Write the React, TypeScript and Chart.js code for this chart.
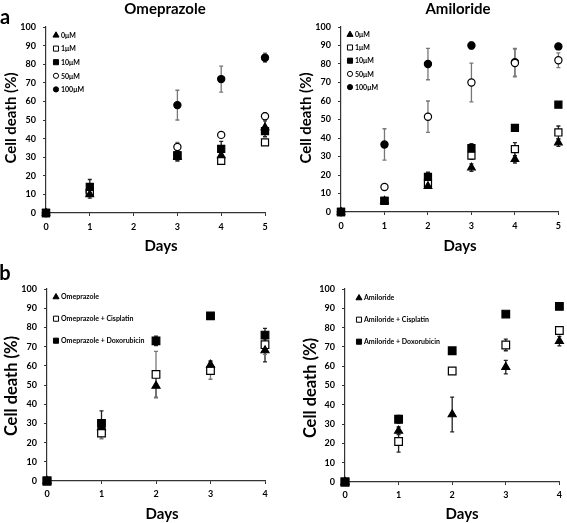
import React, { useEffect, useRef } from "react";
import { Chart, registerables } from "chart.js";

Chart.register(...registerables);

const FONT = "Lato, 'Open Sans', 'DejaVu Sans', sans-serif";

// ---------- Data (panel a, Omeprazole) ----------
const omeDays = [0, 1, 3, 4, 5];
const ome0 = [0, 10, 30, 31, 46];
const ome0Err = [0, 2, 2, 3, 3.5];
const ome1 = [0, 11, 31, 28, 38];
const ome1Err = [0, 1.5, 2, 1.5, 1];
const ome10 = [0, 14, 31, 34.5, 44];
const ome10Err = [0, 4, 3, 4, 3];
const ome50 = [0, 11, 35.5, 42, 52];
const ome50Err = [0, 2, 2.5, 1, 2];
const ome100 = [0, 12, 58, 72, 83.5];
const ome100Err = [0, 3, 8, 7, 2.5];

// ---------- Data (panel a, Amiloride) ----------
const amiDays = [0, 1, 2, 3, 4, 5];
const ami0 = [0, 6, 14, 24, 28.5, 37.5];
const ami0Err = [0, 0.5, 1, 2, 2, 2];
const ami1 = [0, 6, 15.5, 30.5, 34, 43];
const ami1Err = [0, 0.5, 1.5, 2, 3.5, 3.5];
const ami10 = [0, 6, 19, 34.5, 45.5, 58];
const ami10Err = [0, 0.5, 2.5, 2.5, 1, 1];
const ami50 = [0, 13.5, 51.5, 70, 80.5, 82];
const ami50Err = [0, 1, 8.5, 10.5, 7.5, 4];
const ami100 = [0, 36.5, 80, 90, 81, 89.5];
const ami100Err = [0, 8.5, 8.5, 2, 7.5, 0.5];

// ---------- Data (panel b, combinations) ----------
const comboDays = [0, 1, 2, 3, 4];
const omeAlone = [0, 28, 49.5, 60.5, 68];
const omeAloneErr = [0, 3, 6, 2, 6];
const omeCis = [0, 25, 55.5, 57.5, 71];
const omeCisErr = [0, 3, 12, 4.5, 5];
const omeDox = [0, 30, 73, 86, 76];
const omeDoxErr = [0, 6.5, 2.5, 1, 3.5];
const amiAlone = [0, 26.5, 35, 59.5, 73];
const amiAloneErr = [0, 2, 9, 3.5, 2.5];
const amiCis = [0, 21, 57.5, 71, 78.5];
const amiCisErr = [0, 5.5, 1, 3, 1];
const amiDox = [0, 32.5, 68, 87, 91];
const amiDoxErr = [0, 2, 0.5, 0.5, 0.5];

const doseLabels = ["0μM", "1μM", "10μM", "50μM", "100μM"];
const omeComboLabels = ["Omeprazole", "Omeprazole + Cisplatin", "Omeprazole + Doxorubicin"];
const amiComboLabels = ["Amiloride", "Amiloride + Cisplatin", "Amiloride + Doxorubicin"];
const yTicksMax = 100;
const yStep = 10;

type Series = {
  label: string;
  data: number[];
  err: number[];
  style: "triangle" | "rect" | "circle";
  filled: boolean;
  errColor: string;
  top?: boolean;
};

const DARK = "#222";
const GREY = "#777";

function drawMarker(ctx: CanvasRenderingContext2D, style: string, x: number, y: number, r: number, filled: boolean) {
  ctx.save();
  ctx.beginPath();
  if (style === "triangle") {
    const h = r * 1.5;
    ctx.moveTo(x, y - r);
    ctx.lineTo(x + r * 0.95, y + r * 0.65);
    ctx.lineTo(x - r * 0.95, y + r * 0.65);
    ctx.closePath();
    void h;
  } else if (style === "rect") {
    const s = r * Math.SQRT1_2;
    ctx.rect(x - s, y - s, 2 * s, 2 * s);
  } else {
    ctx.arc(x, y, r, 0, Math.PI * 2);
  }
  ctx.fillStyle = filled ? "#000" : "#fff";
  ctx.fill();
  ctx.lineWidth = 1;
  ctx.strokeStyle = "#000";
  ctx.stroke();
  ctx.restore();
}

const errorBarPlugin = {
  id: "errorBars",
  beforeDatasetsDraw(chart: any) {
    const ctx = chart.ctx as CanvasRenderingContext2D;
    const yScale = chart.scales.y;
    chart.data.datasets.forEach((ds: any, i: number) => {
      const meta = chart.getDatasetMeta(i);
      const errs: number[] = ds.errors || [];
      meta.data.forEach((pt: any, j: number) => {
        const e = errs[j];
        if (!e) return;
        const v = ds.data[j].y;
        const yT = yScale.getPixelForValue(v + e);
        const yB = yScale.getPixelForValue(Math.max(0, v - e));
        const x = pt.x;
        ctx.save();
        ctx.strokeStyle = ds.errColor || DARK;
        ctx.lineWidth = 1.3;
        ctx.beginPath();
        ctx.moveTo(x, yT);
        ctx.lineTo(x, yB);
        ctx.moveTo(x - 2, yT);
        ctx.lineTo(x + 2, yT);
        ctx.moveTo(x - 2, yB);
        ctx.lineTo(x + 2, yB);
        ctx.stroke();
        ctx.restore();
      });
    });
  },
};

const legendPlugin = {
  id: "insideLegend",
  afterDraw(chart: any, _args: any, opts: any) {
    const ctx = chart.ctx as CanvasRenderingContext2D;
    const { left, top } = chart.chartArea;
    chart.data.datasets.forEach((ds: any, i: number) => {
      const x = left + opts.dx;
      const y = top + opts.dy0 + i * opts.step;
      const r = ds.pointStyle === "rect" ? 3.6 : ds.pointStyle === "triangle" ? 3.2 : 2.6;
      drawMarker(ctx, ds.pointStyle, x, y, r, ds.filledMarker);
      ctx.save();
      ctx.fillStyle = "#000";
      ctx.font = `bold 7px ${FONT}`;
      ctx.textBaseline = "middle";
      ctx.textAlign = "left";
      ctx.fillText(ds.label, x + 5, y + 0.5);
      ctx.restore();
    });
  },
};

type PanelProps = {
  box: { x: number; y: number; w: number; h: number };
  pad: { left: number; right: number; top: number; bottom: number };
  yW: number;
  xH: number;
  days: number[];
  xMax: number;
  series: Series[];
  legend: { dx: number; dy0: number; step: number };
  xTickPad: number;
  radius: { rect: number; circle: number; triangle: number };
};

function Panel(p: PanelProps) {
  const ref = useRef<HTMLCanvasElement>(null);
  useEffect(() => {
    const tickFont = { family: FONT, size: 9, weight: "bold" as const };
    const chart = new Chart(ref.current!, {
      type: "scatter",
      data: {
        datasets: p.series.map((s) => ({
          label: s.label,
          data: p.days.map((d, i) => ({ x: d, y: s.data[i] })),
          errors: s.err,
          errColor: s.errColor,
          filledMarker: s.filled,
          pointStyle: s.style,
          pointRadius: p.radius[s.style],
          pointHoverRadius: p.radius[s.style],
          pointBackgroundColor: s.filled ? "#000" : "#fff",
          pointBorderColor: "#000",
          pointBorderWidth: 1.2,
          showLine: false,
          clip: false,
          order: s.top ? -1 : 0,
        })) as any,
      },
      options: {
        animation: false,
        responsive: false,
        devicePixelRatio: 1,
        events: [],
        layout: { padding: p.pad },
        plugins: {
          legend: { display: false },
          tooltip: { enabled: false },
          title: { display: false },
          insideLegend: p.legend,
        } as any,
        scales: {
          x: {
            type: "linear",
            min: 0,
            max: p.xMax,
            afterFit: (s: any) => {
              s.height = p.xH;
            },
            ticks: { stepSize: 1, color: "#000", font: tickFont, padding: p.xTickPad, maxRotation: 0 },
            grid: { drawOnChartArea: false, drawTicks: true, tickLength: 3, color: "#333", lineWidth: 1 },
            border: { display: true, color: "#333", width: 1.2 },
          },
          y: {
            type: "linear",
            min: 0,
            max: yTicksMax,
            afterFit: (s: any) => {
              s.width = p.yW;
            },
            ticks: { stepSize: yStep, color: "#000", font: tickFont, padding: 7 },
            grid: { drawOnChartArea: false, drawTicks: true, tickLength: 3, color: "#333", lineWidth: 1 },
            border: { display: true, color: "#333", width: 1.2 },
          },
        },
      },
      plugins: [errorBarPlugin, legendPlugin],
    });
    return () => chart.destroy();
  }, []);
  return (
    <canvas
      ref={ref}
      width={p.box.w}
      height={p.box.h}
      style={{ position: "absolute", left: p.box.x, top: p.box.y, width: p.box.w, height: p.box.h }}
    />
  );
}

function Txt(props: { text: string; cx: number; cy: number; size: number; rot?: boolean }) {
  return (
    <div
      style={{
        position: "absolute",
        left: props.cx,
        top: props.cy,
        transform: `translate(-50%, -50%)${props.rot ? " rotate(-90deg)" : ""}`,
        font: `bold ${props.size}px ${FONT}`,
        lineHeight: 1,
        whiteSpace: "nowrap",
        color: "#000",
      }}
    >
      {props.text}
    </div>
  );
}

const doseStyles: { style: Series["style"]; filled: boolean }[] = [
  { style: "triangle", filled: true },
  { style: "rect", filled: false },
  { style: "rect", filled: true },
  { style: "circle", filled: false },
  { style: "circle", filled: true },
];

export default function App() {
  const omeSeries: Series[] = [
    { label: doseLabels[0], data: ome0, err: ome0Err, ...doseStyles[0], errColor: DARK },
    { label: doseLabels[1], data: ome1, err: ome1Err, ...doseStyles[1], errColor: DARK },
    { label: doseLabels[2], data: ome10, err: ome10Err, ...doseStyles[2], errColor: DARK, top: true },
    { label: doseLabels[3], data: ome50, err: ome50Err, ...doseStyles[3], errColor: GREY },
    { label: doseLabels[4], data: ome100, err: ome100Err, ...doseStyles[4], errColor: GREY },
  ];
  const amiSeries: Series[] = [
    { label: doseLabels[0], data: ami0, err: ami0Err, ...doseStyles[0], errColor: DARK },
    { label: doseLabels[1], data: ami1, err: ami1Err, ...doseStyles[1], errColor: DARK },
    { label: doseLabels[2], data: ami10, err: ami10Err, ...doseStyles[2], errColor: DARK, top: true },
    { label: doseLabels[3], data: ami50, err: ami50Err, ...doseStyles[3], errColor: GREY },
    { label: doseLabels[4], data: ami100, err: ami100Err, ...doseStyles[4], errColor: GREY },
  ];
  const omeCombo: Series[] = [
    { label: omeComboLabels[0], data: omeAlone, err: omeAloneErr, style: "triangle", filled: true, errColor: DARK },
    { label: omeComboLabels[1], data: omeCis, err: omeCisErr, style: "rect", filled: false, errColor: GREY },
    { label: omeComboLabels[2], data: omeDox, err: omeDoxErr, style: "rect", filled: true, errColor: DARK, top: true },
  ];
  const amiCombo: Series[] = [
    { label: amiComboLabels[0], data: amiAlone, err: amiAloneErr, style: "triangle", filled: true, errColor: DARK },
    { label: amiComboLabels[1], data: amiCis, err: amiCisErr, style: "rect", filled: false, errColor: DARK },
    { label: amiComboLabels[2], data: amiDox, err: amiDoxErr, style: "rect", filled: true, errColor: DARK, top: true },
  ];
  const rA = { rect: 5, circle: 3.6, triangle: 4.4 };
  const rB = { rect: 5.4, circle: 3.8, triangle: 4.6 };

  return (
    <div style={{ position: "absolute", left: 0, top: 0, width: 567, height: 523, overflow: "hidden", background: "#fff" }}>
      <Panel
        box={{ x: 0, y: 0, w: 283, h: 252 }}
        pad={{ left: 0, right: 18, top: 27, bottom: 0 }}
        yW={46}
        xH={39}
        days={omeDays}
        xMax={5}
        series={omeSeries}
        legend={{ dx: 10, dy0: 8, step: 13.6 }}
        xTickPad={6}
        radius={rA}
      />
      <Panel
        box={{ x: 283, y: 0, w: 284, h: 252 }}
        pad={{ left: 12, right: 8, top: 27, bottom: 0 }}
        yW={46}
        xH={40}
        days={amiDays}
        xMax={5}
        series={amiSeries}
        legend={{ dx: 9, dy0: 7.3, step: 13.2 }}
        xTickPad={6}
        radius={rA}
      />
      <Panel
        box={{ x: 0, y: 262, w: 283, h: 261 }}
        pad={{ left: 1, right: 18, top: 27, bottom: 0 }}
        yW={46}
        xH={42}
        days={comboDays}
        xMax={4}
        series={omeCombo}
        legend={{ dx: 9, dy0: 7.7, step: 22 }}
        xTickPad={5}
        radius={rB}
      />
      <Panel
        box={{ x: 283, y: 262, w: 284, h: 261 }}
        pad={{ left: 16, right: 4, top: 27, bottom: 0 }}
        yW={46}
        xH={41}
        days={comboDays}
        xMax={4}
        series={amiCombo}
        legend={{ dx: 14, dy0: 8.7, step: 22 }}
        xTickPad={5}
        radius={rB}
      />
      <Txt text="a" cx={5} cy={16} size={20} />
      <Txt text="b" cx={5} cy={272} size={20} />
      <Txt text="Omeprazole" cx={165} cy={8} size={15} />
      <Txt text="Amiloride" cx={458} cy={8} size={15} />
      <Txt text="Days" cx={161} cy={245} size={15} />
      <Txt text="Days" cx={460} cy={245} size={15} />
      <Txt text="Days" cx={162} cy={513} size={15} />
      <Txt text="Days" cx={462} cy={513} size={15} />
      <Txt text="Cell death (%)" cx={10} cy={118} size={15} rot />
      <Txt text="Cell death (%)" cx={305} cy={118} size={15} rot />
      <Txt text="Cell death (%)" cx={11} cy={386} size={16.5} rot />
      <Txt text="Cell death (%)" cx={310} cy={388} size={16.5} rot />
    </div>
  );
}
